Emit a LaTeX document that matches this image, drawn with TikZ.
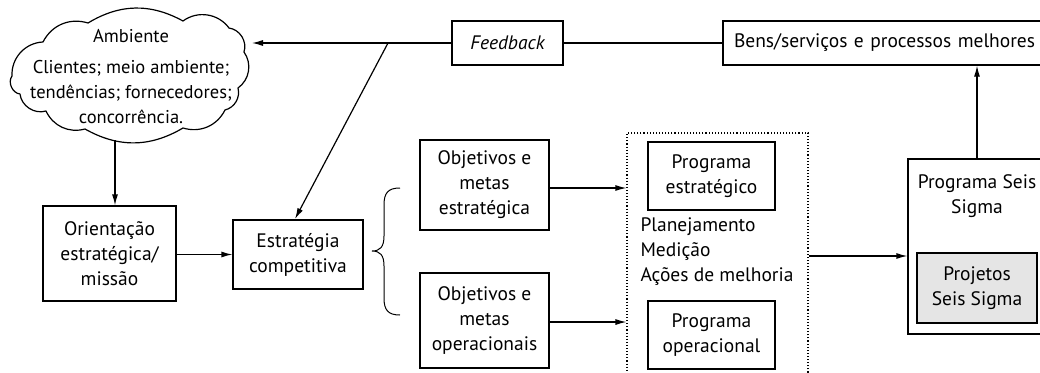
\documentclass[tikz,border=0pt]{standalone}
\usepackage{fontspec}
\setmainfont{PT Sans}
\usetikzlibrary{arrows.meta}
\begin{document}
\begin{tikzpicture}[x=1pt,y=-1pt,
  every node/.style={font=\fontsize{19.5}{25}\selectfont},
  box/.style={draw,line width=1.2pt,inner sep=0pt,align=center},
  ln/.style={line width=1.2pt},
  arr/.style={line width=1.2pt,-{Latex[length=11pt,width=6pt]}}]
\useasboundingbox (0,0) rectangle (1040,372);
\clip (0,0) rectangle (1040,372);
% cloud outline
\draw[ln,line join=round] (12,76) to[bend left=45] (43,42) to[bend left=40] (88,23)
  to[bend left=30] (183,21) to[bend left=45] (229,28) to[bend left=50] (244,52)
  to[bend left=45] (238,88) to[bend left=45] (225,110) to[bend left=40] (183,128)
  to[bend left=30] (85,129) to[bend left=40] (46,111) to[bend left=50] (20,94)
  to[bend left=60] cycle;
\node[align=center,font=\fontsize{18.5}{25}\selectfont] (clt) at (131,77) {Ambiente\\[6pt]Clientes; meio ambiente;\\tendências; fornecedores;\\concorrência.};
% top row
\node[box,minimum width=111pt,minimum height=44pt] (fb) at (507.5,43) {\itshape Feedback};
\node[box,minimum width=357pt,minimum height=44pt,text width=357pt,align=left] (bens) at (901.5,43) {\hspace{11pt}Bens/serviços e processos melhores};
% left
\node[box,minimum width=133pt,minimum height=95pt] (ori) at (109.5,253.5) {Orientação\\estratégica/\\missão};
\node[box,minimum width=130pt,minimum height=69pt] (est) at (298,254.5) {Estratégia\\competitiva};
% objectives
\node[box,minimum width=129pt,minimum height=90pt] (oe) at (484.5,185) {Objetivos e\\metas\\estratégica};
\node[box,minimum width=129pt,minimum height=95pt] (oo) at (484.5,320.5) {Objetivos e\\metas\\operacionais};
% dotted box
\node[draw,dotted,line width=1.1pt,minimum width=181pt,minimum height=260pt,inner sep=0pt] (dot) at (717.5,263) {};
\node[box,minimum width=127pt,minimum height=68pt] (pe) at (711.5,176) {Programa\\estratégico};
\node[box,minimum width=127pt,minimum height=68pt] (po) at (711.5,335) {Programa\\operacional};
\node[align=left,anchor=west] (acts) at (637,252) {Planejamento\\Medição\\Ações de melhoria};
% six sigma
\node[draw,line width=1.2pt,minimum width=160pt,minimum height=175pt,inner sep=0pt] (ss) at (988,246.5) {};
\node[align=center] (sst) at (977,196) {Programa Seis\\Sigma};
\node[box,fill=black!10,minimum width=120pt,minimum height=70pt] (pss) at (977,288) {Projetos\\Seis Sigma};
% connectors
\coordinate (fork) at (388,43);
\coordinate (clE) at (252,43);
\coordinate (clS) at (115,140);
\draw[arr] (fb.west) -- (clE);
\draw[ln] (fb.east) -- (bens.west);
\draw[arr] (fork) -- (295,219);
\draw[arr] (clS) -- (ori.north -| clS);
\draw[arr] (ori.east |- est.west) -- (est.west);
\draw[arr] (oe.east |- 0,188) -- (dot.west |- 0,188);
\draw[arr] (oo.east |- 0,322) -- (dot.west |- 0,322);
\draw[arr] (dot.east |- 0,256) -- (ss.west |- 0,256);
\draw[arr] (ss.north -| 977,0) -- (bens.south -| 977,0);
% brace
\draw[line width=1pt] (400,188) .. controls (388,188) and (384,193) .. (384,205) -- (384,236)
  .. controls (384,247) and (380,251) .. (372,251)
  .. controls (380,251) and (384,255) .. (384,266) -- (384,298)
  .. controls (384,310) and (388,315) .. (400,315);
\end{tikzpicture}
\end{document}
